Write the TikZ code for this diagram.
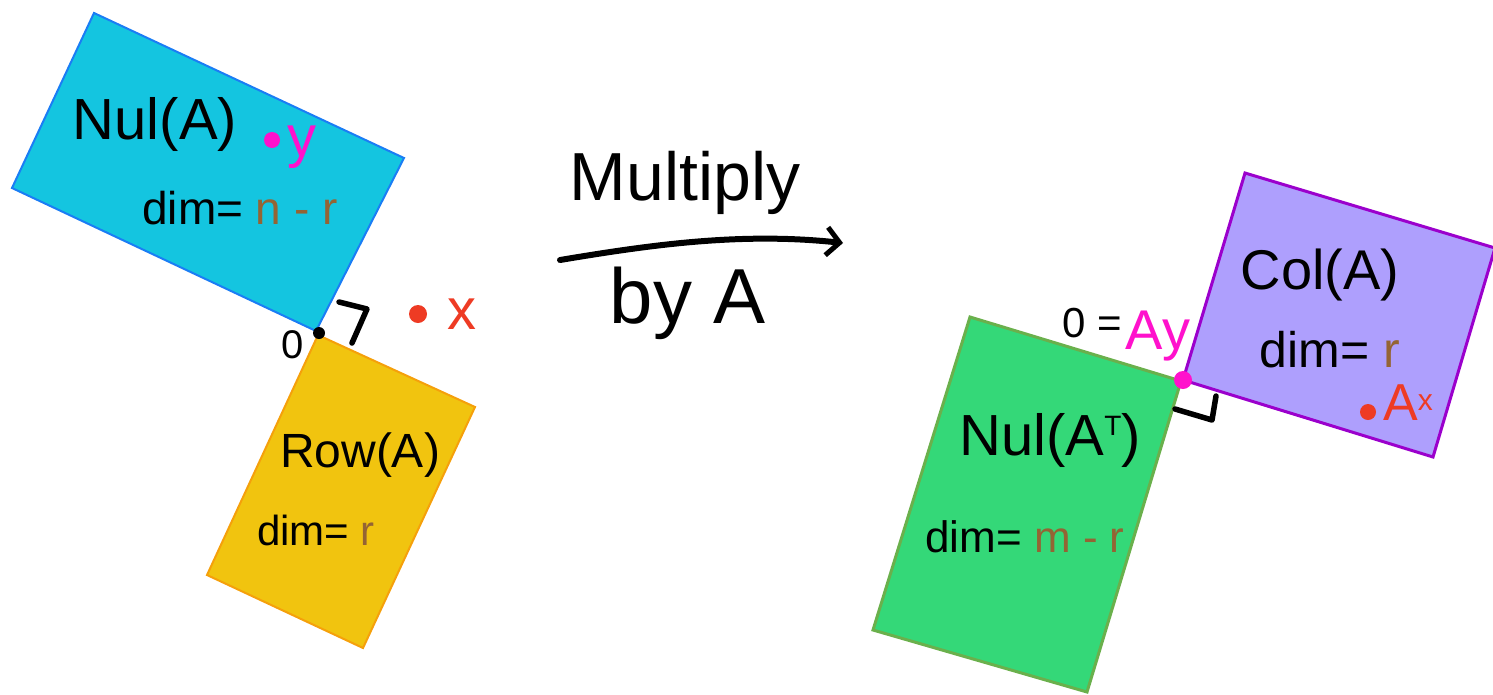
\documentclass[tikz,border=0pt]{standalone}
\usepackage{fontspec}
\setmainfont{Liberation Sans}
\usetikzlibrary{arrows.meta}
\definecolor{nulfill}{HTML}{14C5E0}
\definecolor{nulline}{HTML}{1A7DF5}
\definecolor{rowfill}{HTML}{F1C40F}
\definecolor{rowline}{HTML}{F5A00B}
\definecolor{grfill}{HTML}{34D878}
\definecolor{grline}{HTML}{6AB04C}
\definecolor{colfill}{HTML}{AE9FFD}
\definecolor{colline}{HTML}{9B00CC}
\definecolor{magen}{HTML}{FF11CC}
\definecolor{brn}{HTML}{946434}
\definecolor{rd}{HTML}{EE3B24}
\newcommand{\fs}[1]{\fontsize{#1}{#1}\selectfont}
\tikzset{
  lbl/.style={inner sep=0pt, anchor=center},
  mark90/.style={line width=5.5pt, line cap=round, line join=round},
  pt/.style={circle, inner sep=0pt, minimum size=#1},
}
\begin{document}
\begin{tikzpicture}[x=1pt,y=-1pt]
\useasboundingbox (0,0) rectangle (1493,694);
% corners
\coordinate (b1) at (94,13);   \coordinate (b2) at (404,158);
\coordinate (b3) at (316,331); \coordinate (b4) at (12,188);
\coordinate (y1) at (318,335); \coordinate (y2) at (475,407);
\coordinate (y3) at (363,648); \coordinate (y4) at (207,575);
\coordinate (g1) at (970,317); \coordinate (g2) at (1181,381);
\coordinate (g3) at (1087,692);\coordinate (g4) at (873,630);
\coordinate (p1) at (1183,380);\coordinate (p2) at (1245,173);
\coordinate (p3) at (1495,248);\coordinate (p4) at (1433,457);
% rectangles
\draw[fill=nulfill, draw=nulline, line width=2pt] (b1)--(b2)--(b3)--(b4)--cycle;
\draw[fill=rowfill, draw=rowline, line width=2pt] (y1)--(y2)--(y3)--(y4)--cycle;
\draw[fill=grfill, draw=grline, line width=3pt] (g1)--(g2)--(g3)--(g4)--cycle;
\draw[fill=colfill, draw=colline, line width=3pt] (p1)--(p2)--(p3)--(p4)--cycle;
% Nul(A)
\node[lbl] (nula) at (155,124) {\fs{58}Nul(A)};
\node[pt=16pt, fill=magen] (ydot) at (272,140) {};
\node[lbl, text=magen] (ylab) at (302,147) {\fs{58}y};
\node[lbl] (dimnull) at (240,208) {\fs{46}dim= \textcolor{brn}{n - r}};
% Row(A)
\node[lbl] (rowa) at (360,455) {\fs{48}Row(A)};
\node[lbl] (dimrow) at (316,530) {\fs{42}dim= \textcolor{brn}{r}};
% origin left
\node[pt=12pt, fill=black] (o1) at (319,333) {};
\node[lbl] (zero1) at (293,345) {\fs{40}0};
\coordinate (m1a) at (339,302); \coordinate (m1b) at (367,309); \coordinate (m1c) at (352,343);
\draw[mark90] (m1a) -- (m1b) -- (m1c);
% x
\node[pt=18pt, fill=rd] (xdot) at (418,314) {};
\node[lbl, text=rd] (xlab) at (462,314) {\fs{58}x};
% arrow
\node[lbl] (mult) at (685,183) {\fs{68}Multiply};
\node[lbl] (bya) at (688,303) {\fs{78}by A};
\coordinate (arS) at (560,260);
\coordinate (arE) at (843,243);
\draw[line width=6pt, line cap=round, -{Straight Barb[length=13pt,width=28pt,line width=5pt]}]
  (arS) .. controls (650,245) and (740,232) .. (arE);
% Nul(A^T)
\node[lbl] (nulat) at (1050,440) {\fs{58}Nul(A{\fs{28}\raisebox{20pt}{T}})};
\node[lbl] (dimnt) at (1025,537) {\fs{44}dim= \textcolor{brn}{m - r}};
% Col(A)
\node[lbl] (cola) at (1320,275) {\fs{56}Col(A)};
\node[lbl] (dimcol) at (1330,350) {\fs{50}dim= \textcolor{brn}{r}};
\node[pt=16pt, fill=rd] (axdot) at (1368,412) {};
\node[lbl, text=rd] (axlab) at (1408,403) {\fs{52}A{\fs{30}\raisebox{10pt}{x}}};
% origin right
\node[lbl] (zeq) at (1092,323) {\fs{42}0 =};
\node[lbl, text=magen] (aylab) at (1158,336) {\fs{56}Ay};
\node[pt=18pt, fill=magen] (o2) at (1183,380) {};
\coordinate (m2a) at (1175,409); \coordinate (m2b) at (1212,420); \coordinate (m2c) at (1216,396);
\draw[mark90] (m2a) -- (m2b) -- (m2c);
\end{tikzpicture}
\end{document}
